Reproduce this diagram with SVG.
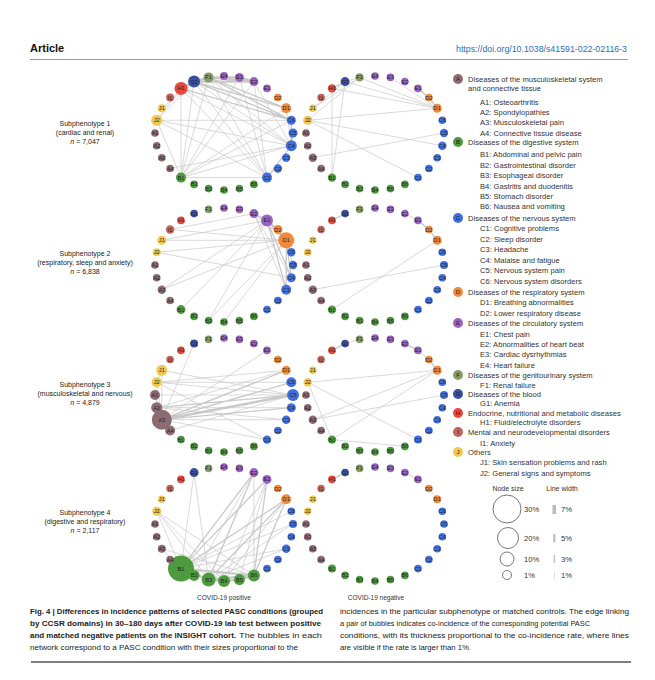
<svg xmlns="http://www.w3.org/2000/svg" width="655" height="680" viewBox="0 0 655 680">
<style>
text{font-family:"Liberation Sans",Arial,sans-serif;fill:#2b2b2b}
.cA{fill:#8d6b73}.cB{fill:#4e9a3f}.cC{fill:#3f6fe0}.cD{fill:#f08a3c}.cE{fill:#9a62c4}
.cF{fill:#869d66}.cG{fill:#3a4f9e}.cH{fill:#e8473b}.cI{fill:#c0645a}.cJ{fill:#f0c850}
.net text{font-size:5.6px;text-anchor:middle;dominant-baseline:central;fill:#262626}
.e{fill:none;stroke:#c9c9c9;stroke-linecap:round}
.w1{stroke-width:.7}.w2{stroke-width:1.3}.w3{stroke-width:2.4}
.side{font-size:7px;text-anchor:middle;fill:#222}
.lg{font-size:7.6px;fill:#333}
.lc{font-size:6px;text-anchor:middle;dominant-baseline:central;fill:#222}
.ns{fill:none;stroke:#555;stroke-width:.8}
.cap{font-size:7.4px;fill:#222}
.b{font-weight:bold}
</style>

<g id="header">
<text x="30" y="52" style="font-size:11px;font-weight:bold;fill:#111">Article</text>
<text x="627" y="52" style="font-size:8.8px;text-anchor:end;fill:#2a6ebb">https://doi.org/10.1038/s41591-022-02116-3</text>
<line x1="30" y1="59.5" x2="628" y2="59.5" stroke="#999" stroke-width="1"/>
</g>

<g id="row-labels">
<text class="side" x="85" y="126">Subphenotype 1</text>
<text class="side" x="85" y="135">(cardiac and renal)</text>
<text class="side" x="85" y="144"><tspan font-style="italic">n</tspan> = 7,047</text>
<text class="side" x="85" y="256">Subphenotype 2</text>
<text class="side" x="85" y="265">(respiratory, sleep and anxiety)</text>
<text class="side" x="85" y="274"><tspan font-style="italic">n</tspan> = 6,838</text>
<text class="side" x="85" y="387">Subphenotype 3</text>
<text class="side" x="85" y="396">(musculoskeletal and nervous)</text>
<text class="side" x="85" y="405"><tspan font-style="italic">n</tspan> = 4,879</text>
<text class="side" x="85" y="515">Subphenotype 4</text>
<text class="side" x="85" y="524">(digestive and respiratory)</text>
<text class="side" x="85" y="533"><tspan font-style="italic">n</tspan> = 2,117</text>
</g>

<g id="connectors">
<g transform="translate(224,133)">
<path class="e w1" d="M-43,-44.6L-43,44.6M-43,-44.6L43,44.6M-43,-44.6L67.3,12.7M-29.9,-51.4L-43,44.6M-29.9,-51.4L43,44.6M-29.9,-51.4L67.3,12.7M-15.4,-55.6L-43,44.6M-15.4,-55.6L43,44.6M-15.4,-55.6L67.3,12.7M15.4,-55.6L-43,44.6M29.9,-51.4L-43,44.6M29.9,-51.4L43,44.6M29.9,-51.4L67.3,12.7M15.4,-55.6L43,44.6M-67.3,-12.7L67.3,12.7M-67.3,-12.7L43,44.6M-67.3,-12.7L-29.9,-51.4M-67.3,-12.7L-43,44.6M-62.2,-24.7L-29.9,-51.4M-43,44.6L43,44.6M-43,44.6L67.3,12.7M-43,44.6L67.3,-12.7M-43,44.6L62.2,-24.7M-67.3,-12.7L67.3,-12.7M62.2,-24.7L67.3,12.7M43,44.6L62.2,24.7M-53.9,35.5L67.3,12.7M-43,-44.6L-67.3,-12.7"/>
<path class="e w2" d="M-15.4,-55.6L62.2,-24.7M-29.9,-51.4L62.2,-24.7M-29.9,-51.4L67.3,-12.7M-15.4,-55.6L67.3,-12.7M-43,-44.6L67.3,-12.7M67.3,-12.7L67.3,12.7M67.3,12.7L43,44.6M69,0L67.3,12.7"/>
<path class="e w3" d="M-29.9,-51.4L-15.4,-55.6M-15.4,-55.6L15.4,-55.6M-29.9,-51.4L29.9,-51.4M-43,-44.6L-29.9,-51.4M15.4,-55.6L29.9,-51.4M-15.4,-55.6L29.9,-51.4"/>
</g>
<g transform="translate(375,133)">
<path class="e w1" d="M-67.3,-12.7L62.2,-24.7M-67.3,-12.7L67.3,12.7M-67.3,-12.7L43,44.6M-67.3,-12.7L-15.4,-55.6M-62.2,-24.7L-29.9,-51.4M-62.2,-24.7L-15.4,-55.6M-43,-44.6L-43,44.6M-29.9,-51.4L-43,44.6M-29.9,-51.4L62.2,-24.7M-15.4,-55.6L62.2,-24.7M-43,-44.6L62.2,-24.7M15.4,-55.6L62.2,-24.7M-62.2,24.7L69,0M-29.9,-51.4L-15.4,-55.6"/>
<path class="e w2" d="M-43,-44.6L-29.9,-51.4M43,-44.6L53.9,-35.5M53.9,-35.5L62.2,-24.7"/>
</g>
<g transform="translate(224,265)">
<path class="e w1" d="M29.9,-51.4L67.3,12.7M29.9,-51.4L62.2,24.7M62.2,-24.7L67.3,-12.7M62.2,-24.7L69,0M-53.9,-35.5L29.9,-51.4M-53.9,-35.5L62.2,-24.7M-62.2,-24.7L62.2,-24.7M-62.2,-24.7L43,-44.6M-67.3,-12.7L62.2,-24.7M-67.3,-12.7L67.3,12.7M-62.2,24.7L43,-44.6M-62.2,24.7L62.2,-24.7M-43,44.6L43,-44.6M-15.4,55.6L43,-44.6M-15.4,55.6L62.2,-24.7M0,57L62.2,-24.7M43,-44.6L67.3,-12.7M29.9,-51.4L62.2,-24.7"/>
<path class="e w2" d="M43,-44.6L62.2,-24.7M29.9,-51.4L43,-44.6M53.9,-35.5L62.2,-24.7M43,-44.6L53.9,-35.5M43,-44.6L67.3,12.7M43,-44.6L62.2,24.7M62.2,-24.7L67.3,12.7M62.2,-24.7L62.2,24.7"/>
</g>
<g transform="translate(375,265)">
<path class="e w1" d="M-62.2,24.7L69,0M-43,44.6L62.2,-24.7M29.9,-51.4L43,-44.6"/>
<path class="e w2" d="M-43,-44.6L-29.9,-51.4M43,-44.6L53.9,-35.5M53.9,-35.5L62.2,-24.7"/>
</g>
<g transform="translate(224,395)">
<path class="e w1" d="M-62.2,24.7L-29.9,-51.4M-62.2,24.7L43,-44.6M-62.2,24.7L62.2,24.7M-62.2,24.7L43,44.6M-62.2,24.7L-67.3,-12.7M-62.2,24.7L-62.2,-24.7M-67.3,-12.7L62.2,-24.7M-67.3,-12.7L69,0M-67.3,-12.7L67.3,-12.7M-67.3,-12.7L43,44.6M-62.2,-24.7L69,0M-69,0L69,0M-67.3,12.7L62.2,-24.7M-67.3,12.7L67.3,12.7M-53.9,35.5L69,0M-67.3,12.7L62.2,24.7M-62.2,-24.7L-67.3,-12.7"/>
<path class="e w2" d="M-62.2,24.7L67.3,-12.7M-62.2,24.7L62.2,-24.7M-62.2,24.7L67.3,12.7M-67.3,12.7L69,0M-62.2,24.7L-67.3,12.7M-62.2,24.7L-53.9,35.5M-62.2,24.7L-69,0"/>
<path class="e w3" d="M-62.2,24.7L69,0"/>
</g>
<g transform="translate(375,395)">
<path class="e w1" d="M-67.3,-12.7L62.2,-24.7M-67.3,-12.7L43,44.6M-67.3,-12.7L-43,44.6M-62.2,24.7L62.2,-24.7M-62.2,24.7L69,0M-43,44.6L62.2,-24.7M-43,44.6L29.9,51.4M-29.9,-51.4L-15.4,-55.6M43,-44.6L53.9,-35.5"/>
<path class="e w2" d="M-43,-44.6L-29.9,-51.4M29.9,-51.4L43,-44.6M53.9,-35.5L62.2,-24.7"/>
</g>
<g transform="translate(224,524)">
<path class="e w1" d="M-43,44.6L-29.9,-51.4M-15.4,55.6L-29.9,-51.4M-43,44.6L-67.3,-12.7M-15.4,55.6L-67.3,-12.7M0,57L-67.3,-12.7M29.9,51.4L-67.3,-12.7M-43,44.6L69,0M-43,44.6L62.2,24.7M-15.4,55.6L69,0M0,57L43,-44.6M29.9,51.4L29.9,-51.4M0,57L62.2,-24.7M-29.9,51.4L29.9,-51.4M-62.2,24.7L29.9,51.4M-15.4,55.6L62.2,24.7M-43,44.6L-62.2,24.7M15.4,55.6L43,-44.6M-43,44.6L67.3,-12.7"/>
<path class="e w2" d="M-43,44.6L62.2,-24.7M-43,44.6L43,-44.6M-43,44.6L29.9,-51.4M29.9,51.4L43,-44.6M29.9,51.4L62.2,-24.7M-15.4,55.6L29.9,-51.4M-15.4,55.6L62.2,-24.7"/>
<path class="e w3" d="M-43,44.6L-15.4,55.6M-43,44.6L29.9,51.4M-15.4,55.6L0,57M0,57L15.4,55.6M15.4,55.6L29.9,51.4M-43,44.6L-29.9,51.4M-15.4,55.6L29.9,51.4"/>
</g>
<g transform="translate(375,524)">
<path class="e w1" d="M29.9,-51.4L43,-44.6M53.9,-35.5L62.2,-24.7"/>
<path class="e w2" d="M-43,-44.6L-29.9,-51.4"/>
</g>
</g>

<g id="net-s1-positive" class="net" transform="translate(224,133)">
<g id="s1p-E4"><circle class="cE" cx="0" cy="-57" r="4"/><text x="0" y="-57">E4</text></g>
<g id="s1p-E3"><circle class="cE" cx="15.4" cy="-55.6" r="4.5"/><text x="15.4" y="-55.6">E3</text></g>
<g id="s1p-E2"><circle class="cE" cx="29.9" cy="-51.4" r="4.5"/><text x="29.9" y="-51.4">E2</text></g>
<g id="s1p-E1"><circle class="cE" cx="43" cy="-44.6" r="3.8"/><text x="43" y="-44.6">E1</text></g>
<g id="s1p-D2"><circle class="cD" cx="53.9" cy="-35.5" r="3.8"/><text x="53.9" y="-35.5">D2</text></g>
<g id="s1p-D1"><circle class="cD" cx="62.2" cy="-24.7" r="5"/><text x="62.2" y="-24.7">D1</text></g>
<g id="s1p-C6"><circle class="cC" cx="67.3" cy="-12.7" r="4.5"/><text x="67.3" y="-12.7">C6</text></g>
<g id="s1p-C5"><circle class="cC" cx="69" cy="0" r="4.5"/><text x="69" y="0">C5</text></g>
<g id="s1p-C4"><circle class="cC" cx="67.3" cy="12.7" r="5.5"/><text x="67.3" y="12.7">C4</text></g>
<g id="s1p-C3"><circle class="cC" cx="62.2" cy="24.7" r="4.2"/><text x="62.2" y="24.7">C3</text></g>
<g id="s1p-C2"><circle class="cC" cx="53.9" cy="35.5" r="4.2"/><text x="53.9" y="35.5">C2</text></g>
<g id="s1p-C1"><circle class="cC" cx="43" cy="44.6" r="5"/><text x="43" y="44.6">C1</text></g>
<g id="s1p-B6"><circle class="cB" cx="29.9" cy="51.4" r="3.8"/><text x="29.9" y="51.4">B6</text></g>
<g id="s1p-B5"><circle class="cB" cx="15.4" cy="55.6" r="3.8"/><text x="15.4" y="55.6">B5</text></g>
<g id="s1p-B4"><circle class="cB" cx="0" cy="57" r="3.8"/><text x="0" y="57">B4</text></g>
<g id="s1p-B3"><circle class="cB" cx="-15.4" cy="55.6" r="3.8"/><text x="-15.4" y="55.6">B3</text></g>
<g id="s1p-B2"><circle class="cB" cx="-29.9" cy="51.4" r="3.8"/><text x="-29.9" y="51.4">B2</text></g>
<g id="s1p-B1"><circle class="cB" cx="-43" cy="44.6" r="5"/><text x="-43" y="44.6">B1</text></g>
<g id="s1p-A4"><circle class="cA" cx="-53.9" cy="35.5" r="3.8"/><text x="-53.9" y="35.5">A4</text></g>
<g id="s1p-A3"><circle class="cA" cx="-62.2" cy="24.7" r="3.8"/><text x="-62.2" y="24.7">A3</text></g>
<g id="s1p-A2"><circle class="cA" cx="-67.3" cy="12.7" r="3.8"/><text x="-67.3" y="12.7">A2</text></g>
<g id="s1p-A1"><circle class="cA" cx="-69" cy="0" r="3.8"/><text x="-69" y="0">A1</text></g>
<g id="s1p-J2"><circle class="cJ" cx="-67.3" cy="-12.7" r="5.5"/><text x="-67.3" y="-12.7">J2</text></g>
<g id="s1p-J1"><circle class="cJ" cx="-62.2" cy="-24.7" r="4"/><text x="-62.2" y="-24.7">J1</text></g>
<g id="s1p-I1"><circle class="cI" cx="-53.9" cy="-35.5" r="4"/><text x="-53.9" y="-35.5">I1</text></g>
<g id="s1p-H1"><circle class="cH" cx="-43" cy="-44.6" r="6.5"/><text x="-43" y="-44.6">H1</text></g>
<g id="s1p-G1"><circle class="cG" cx="-29.9" cy="-51.4" r="6"/><text x="-29.9" y="-51.4">G1</text></g>
<g id="s1p-F1"><circle class="cF" cx="-15.4" cy="-55.6" r="5"/><text x="-15.4" y="-55.6">F1</text></g>
</g>

<g id="net-s1-negative" class="net" transform="translate(375,133)">
<g id="s1n-E4"><circle class="cE" cx="0" cy="-57" r="3.8"/><text x="0" y="-57">E4</text></g>
<g id="s1n-E3"><circle class="cE" cx="15.4" cy="-55.6" r="3.8"/><text x="15.4" y="-55.6">E3</text></g>
<g id="s1n-E2"><circle class="cE" cx="29.9" cy="-51.4" r="3.8"/><text x="29.9" y="-51.4">E2</text></g>
<g id="s1n-E1"><circle class="cE" cx="43" cy="-44.6" r="3.8"/><text x="43" y="-44.6">E1</text></g>
<g id="s1n-D2"><circle class="cD" cx="53.9" cy="-35.5" r="3.8"/><text x="53.9" y="-35.5">D2</text></g>
<g id="s1n-D1"><circle class="cD" cx="62.2" cy="-24.7" r="4.5"/><text x="62.2" y="-24.7">D1</text></g>
<g id="s1n-C6"><circle class="cC" cx="67.3" cy="-12.7" r="3.8"/><text x="67.3" y="-12.7">C6</text></g>
<g id="s1n-C5"><circle class="cC" cx="69" cy="0" r="4.2"/><text x="69" y="0">C5</text></g>
<g id="s1n-C4"><circle class="cC" cx="67.3" cy="12.7" r="4.2"/><text x="67.3" y="12.7">C4</text></g>
<g id="s1n-C3"><circle class="cC" cx="62.2" cy="24.7" r="3.8"/><text x="62.2" y="24.7">C3</text></g>
<g id="s1n-C2"><circle class="cC" cx="53.9" cy="35.5" r="3.8"/><text x="53.9" y="35.5">C2</text></g>
<g id="s1n-C1"><circle class="cC" cx="43" cy="44.6" r="3.8"/><text x="43" y="44.6">C1</text></g>
<g id="s1n-B6"><circle class="cB" cx="29.9" cy="51.4" r="3.8"/><text x="29.9" y="51.4">B6</text></g>
<g id="s1n-B5"><circle class="cB" cx="15.4" cy="55.6" r="3.8"/><text x="15.4" y="55.6">B5</text></g>
<g id="s1n-B4"><circle class="cB" cx="0" cy="57" r="3.8"/><text x="0" y="57">B4</text></g>
<g id="s1n-B3"><circle class="cB" cx="-15.4" cy="55.6" r="3.8"/><text x="-15.4" y="55.6">B3</text></g>
<g id="s1n-B2"><circle class="cB" cx="-29.9" cy="51.4" r="3.8"/><text x="-29.9" y="51.4">B2</text></g>
<g id="s1n-B1"><circle class="cB" cx="-43" cy="44.6" r="4.2"/><text x="-43" y="44.6">B1</text></g>
<g id="s1n-A4"><circle class="cA" cx="-53.9" cy="35.5" r="3.8"/><text x="-53.9" y="35.5">A4</text></g>
<g id="s1n-A3"><circle class="cA" cx="-62.2" cy="24.7" r="4.2"/><text x="-62.2" y="24.7">A3</text></g>
<g id="s1n-A2"><circle class="cA" cx="-67.3" cy="12.7" r="3.8"/><text x="-67.3" y="12.7">A2</text></g>
<g id="s1n-A1"><circle class="cA" cx="-69" cy="0" r="3.8"/><text x="-69" y="0">A1</text></g>
<g id="s1n-J2"><circle class="cJ" cx="-67.3" cy="-12.7" r="4.5"/><text x="-67.3" y="-12.7">J2</text></g>
<g id="s1n-J1"><circle class="cJ" cx="-62.2" cy="-24.7" r="3.8"/><text x="-62.2" y="-24.7">J1</text></g>
<g id="s1n-I1"><circle class="cI" cx="-53.9" cy="-35.5" r="3.8"/><text x="-53.9" y="-35.5">I1</text></g>
<g id="s1n-H1"><circle class="cH" cx="-43" cy="-44.6" r="4.2"/><text x="-43" y="-44.6">H1</text></g>
<g id="s1n-G1"><circle class="cG" cx="-29.9" cy="-51.4" r="4.5"/><text x="-29.9" y="-51.4">G1</text></g>
<g id="s1n-F1"><circle class="cF" cx="-15.4" cy="-55.6" r="4.2"/><text x="-15.4" y="-55.6">F1</text></g>
</g>

<g id="net-s2-positive" class="net" transform="translate(224,265)">
<g id="s2p-E4"><circle class="cE" cx="0" cy="-57" r="3.8"/><text x="0" y="-57">E4</text></g>
<g id="s2p-E3"><circle class="cE" cx="15.4" cy="-55.6" r="3.8"/><text x="15.4" y="-55.6">E3</text></g>
<g id="s2p-E2"><circle class="cE" cx="29.9" cy="-51.4" r="4.5"/><text x="29.9" y="-51.4">E2</text></g>
<g id="s2p-E1"><circle class="cE" cx="43" cy="-44.6" r="6"/><text x="43" y="-44.6">E1</text></g>
<g id="s2p-D2"><circle class="cD" cx="53.9" cy="-35.5" r="4.5"/><text x="53.9" y="-35.5">D2</text></g>
<g id="s2p-D1"><circle class="cD" cx="62.2" cy="-24.7" r="8"/><text x="62.2" y="-24.7">D1</text></g>
<g id="s2p-C6"><circle class="cC" cx="67.3" cy="-12.7" r="4.2"/><text x="67.3" y="-12.7">C6</text></g>
<g id="s2p-C5"><circle class="cC" cx="69" cy="0" r="4.2"/><text x="69" y="0">C5</text></g>
<g id="s2p-C4"><circle class="cC" cx="67.3" cy="12.7" r="4.5"/><text x="67.3" y="12.7">C4</text></g>
<g id="s2p-C3"><circle class="cC" cx="62.2" cy="24.7" r="5"/><text x="62.2" y="24.7">C3</text></g>
<g id="s2p-C2"><circle class="cC" cx="53.9" cy="35.5" r="3.8"/><text x="53.9" y="35.5">C2</text></g>
<g id="s2p-C1"><circle class="cC" cx="43" cy="44.6" r="3.8"/><text x="43" y="44.6">C1</text></g>
<g id="s2p-B6"><circle class="cB" cx="29.9" cy="51.4" r="3.8"/><text x="29.9" y="51.4">B6</text></g>
<g id="s2p-B5"><circle class="cB" cx="15.4" cy="55.6" r="3.8"/><text x="15.4" y="55.6">B5</text></g>
<g id="s2p-B4"><circle class="cB" cx="0" cy="57" r="3.8"/><text x="0" y="57">B4</text></g>
<g id="s2p-B3"><circle class="cB" cx="-15.4" cy="55.6" r="3.8"/><text x="-15.4" y="55.6">B3</text></g>
<g id="s2p-B2"><circle class="cB" cx="-29.9" cy="51.4" r="3.8"/><text x="-29.9" y="51.4">B2</text></g>
<g id="s2p-B1"><circle class="cB" cx="-43" cy="44.6" r="4.5"/><text x="-43" y="44.6">B1</text></g>
<g id="s2p-A4"><circle class="cA" cx="-53.9" cy="35.5" r="3.8"/><text x="-53.9" y="35.5">A4</text></g>
<g id="s2p-A3"><circle class="cA" cx="-62.2" cy="24.7" r="4.2"/><text x="-62.2" y="24.7">A3</text></g>
<g id="s2p-A2"><circle class="cA" cx="-67.3" cy="12.7" r="3.8"/><text x="-67.3" y="12.7">A2</text></g>
<g id="s2p-A1"><circle class="cA" cx="-69" cy="0" r="3.8"/><text x="-69" y="0">A1</text></g>
<g id="s2p-J2"><circle class="cJ" cx="-67.3" cy="-12.7" r="4"/><text x="-67.3" y="-12.7">J2</text></g>
<g id="s2p-J1"><circle class="cJ" cx="-62.2" cy="-24.7" r="4.5"/><text x="-62.2" y="-24.7">J1</text></g>
<g id="s2p-I1"><circle class="cI" cx="-53.9" cy="-35.5" r="4.2"/><text x="-53.9" y="-35.5">I1</text></g>
<g id="s2p-H1"><circle class="cH" cx="-43" cy="-44.6" r="3.8"/><text x="-43" y="-44.6">H1</text></g>
<g id="s2p-G1"><circle class="cG" cx="-29.9" cy="-51.4" r="3.8"/><text x="-29.9" y="-51.4">G1</text></g>
<g id="s2p-F1"><circle class="cF" cx="-15.4" cy="-55.6" r="3.8"/><text x="-15.4" y="-55.6">F1</text></g>
</g>

<g id="net-s2-negative" class="net" transform="translate(375,265)">
<g id="s2n-E4"><circle class="cE" cx="0" cy="-57" r="3.8"/><text x="0" y="-57">E4</text></g>
<g id="s2n-E3"><circle class="cE" cx="15.4" cy="-55.6" r="3.8"/><text x="15.4" y="-55.6">E3</text></g>
<g id="s2n-E2"><circle class="cE" cx="29.9" cy="-51.4" r="3.8"/><text x="29.9" y="-51.4">E2</text></g>
<g id="s2n-E1"><circle class="cE" cx="43" cy="-44.6" r="3.8"/><text x="43" y="-44.6">E1</text></g>
<g id="s2n-D2"><circle class="cD" cx="53.9" cy="-35.5" r="3.8"/><text x="53.9" y="-35.5">D2</text></g>
<g id="s2n-D1"><circle class="cD" cx="62.2" cy="-24.7" r="4.5"/><text x="62.2" y="-24.7">D1</text></g>
<g id="s2n-C6"><circle class="cC" cx="67.3" cy="-12.7" r="3.8"/><text x="67.3" y="-12.7">C6</text></g>
<g id="s2n-C5"><circle class="cC" cx="69" cy="0" r="4"/><text x="69" y="0">C5</text></g>
<g id="s2n-C4"><circle class="cC" cx="67.3" cy="12.7" r="3.8"/><text x="67.3" y="12.7">C4</text></g>
<g id="s2n-C3"><circle class="cC" cx="62.2" cy="24.7" r="3.8"/><text x="62.2" y="24.7">C3</text></g>
<g id="s2n-C2"><circle class="cC" cx="53.9" cy="35.5" r="3.8"/><text x="53.9" y="35.5">C2</text></g>
<g id="s2n-C1"><circle class="cC" cx="43" cy="44.6" r="3.8"/><text x="43" y="44.6">C1</text></g>
<g id="s2n-B6"><circle class="cB" cx="29.9" cy="51.4" r="3.8"/><text x="29.9" y="51.4">B6</text></g>
<g id="s2n-B5"><circle class="cB" cx="15.4" cy="55.6" r="3.8"/><text x="15.4" y="55.6">B5</text></g>
<g id="s2n-B4"><circle class="cB" cx="0" cy="57" r="3.8"/><text x="0" y="57">B4</text></g>
<g id="s2n-B3"><circle class="cB" cx="-15.4" cy="55.6" r="3.8"/><text x="-15.4" y="55.6">B3</text></g>
<g id="s2n-B2"><circle class="cB" cx="-29.9" cy="51.4" r="3.8"/><text x="-29.9" y="51.4">B2</text></g>
<g id="s2n-B1"><circle class="cB" cx="-43" cy="44.6" r="4.2"/><text x="-43" y="44.6">B1</text></g>
<g id="s2n-A4"><circle class="cA" cx="-53.9" cy="35.5" r="3.8"/><text x="-53.9" y="35.5">A4</text></g>
<g id="s2n-A3"><circle class="cA" cx="-62.2" cy="24.7" r="4.2"/><text x="-62.2" y="24.7">A3</text></g>
<g id="s2n-A2"><circle class="cA" cx="-67.3" cy="12.7" r="3.8"/><text x="-67.3" y="12.7">A2</text></g>
<g id="s2n-A1"><circle class="cA" cx="-69" cy="0" r="3.8"/><text x="-69" y="0">A1</text></g>
<g id="s2n-J2"><circle class="cJ" cx="-67.3" cy="-12.7" r="3.8"/><text x="-67.3" y="-12.7">J2</text></g>
<g id="s2n-J1"><circle class="cJ" cx="-62.2" cy="-24.7" r="3.8"/><text x="-62.2" y="-24.7">J1</text></g>
<g id="s2n-I1"><circle class="cI" cx="-53.9" cy="-35.5" r="3.8"/><text x="-53.9" y="-35.5">I1</text></g>
<g id="s2n-H1"><circle class="cH" cx="-43" cy="-44.6" r="3.8"/><text x="-43" y="-44.6">H1</text></g>
<g id="s2n-G1"><circle class="cG" cx="-29.9" cy="-51.4" r="3.8"/><text x="-29.9" y="-51.4">G1</text></g>
<g id="s2n-F1"><circle class="cF" cx="-15.4" cy="-55.6" r="3.8"/><text x="-15.4" y="-55.6">F1</text></g>
</g>

<g id="net-s3-positive" class="net" transform="translate(224,395)">
<g id="s3p-A3"><circle class="cA" cx="-62.2" cy="24.7" r="10"/><text x="-62.2" y="24.7">A3</text></g>
<g id="s3p-E4"><circle class="cE" cx="0" cy="-57" r="3.8"/><text x="0" y="-57">E4</text></g>
<g id="s3p-E3"><circle class="cE" cx="15.4" cy="-55.6" r="3.8"/><text x="15.4" y="-55.6">E3</text></g>
<g id="s3p-E2"><circle class="cE" cx="29.9" cy="-51.4" r="3.8"/><text x="29.9" y="-51.4">E2</text></g>
<g id="s3p-E1"><circle class="cE" cx="43" cy="-44.6" r="3.8"/><text x="43" y="-44.6">E1</text></g>
<g id="s3p-D2"><circle class="cD" cx="53.9" cy="-35.5" r="3.8"/><text x="53.9" y="-35.5">D2</text></g>
<g id="s3p-D1"><circle class="cD" cx="62.2" cy="-24.7" r="4.5"/><text x="62.2" y="-24.7">D1</text></g>
<g id="s3p-C6"><circle class="cC" cx="67.3" cy="-12.7" r="5"/><text x="67.3" y="-12.7">C6</text></g>
<g id="s3p-C5"><circle class="cC" cx="69" cy="0" r="6"/><text x="69" y="0">C5</text></g>
<g id="s3p-C4"><circle class="cC" cx="67.3" cy="12.7" r="4.5"/><text x="67.3" y="12.7">C4</text></g>
<g id="s3p-C3"><circle class="cC" cx="62.2" cy="24.7" r="4.2"/><text x="62.2" y="24.7">C3</text></g>
<g id="s3p-C2"><circle class="cC" cx="53.9" cy="35.5" r="3.8"/><text x="53.9" y="35.5">C2</text></g>
<g id="s3p-C1"><circle class="cC" cx="43" cy="44.6" r="4.2"/><text x="43" y="44.6">C1</text></g>
<g id="s3p-B6"><circle class="cB" cx="29.9" cy="51.4" r="3.8"/><text x="29.9" y="51.4">B6</text></g>
<g id="s3p-B5"><circle class="cB" cx="15.4" cy="55.6" r="3.8"/><text x="15.4" y="55.6">B5</text></g>
<g id="s3p-B4"><circle class="cB" cx="0" cy="57" r="3.8"/><text x="0" y="57">B4</text></g>
<g id="s3p-B3"><circle class="cB" cx="-15.4" cy="55.6" r="3.8"/><text x="-15.4" y="55.6">B3</text></g>
<g id="s3p-B2"><circle class="cB" cx="-29.9" cy="51.4" r="3.8"/><text x="-29.9" y="51.4">B2</text></g>
<g id="s3p-B1"><circle class="cB" cx="-43" cy="44.6" r="3.8"/><text x="-43" y="44.6">B1</text></g>
<g id="s3p-A4"><circle class="cA" cx="-53.9" cy="35.5" r="5"/><text x="-53.9" y="35.5">A4</text></g>
<g id="s3p-A2"><circle class="cA" cx="-67.3" cy="12.7" r="5.5"/><text x="-67.3" y="12.7">A2</text></g>
<g id="s3p-A1"><circle class="cA" cx="-69" cy="0" r="5"/><text x="-69" y="0">A1</text></g>
<g id="s3p-J2"><circle class="cJ" cx="-67.3" cy="-12.7" r="5"/><text x="-67.3" y="-12.7">J2</text></g>
<g id="s3p-J1"><circle class="cJ" cx="-62.2" cy="-24.7" r="5.5"/><text x="-62.2" y="-24.7">J1</text></g>
<g id="s3p-I1"><circle class="cI" cx="-53.9" cy="-35.5" r="3.8"/><text x="-53.9" y="-35.5">I1</text></g>
<g id="s3p-H1"><circle class="cH" cx="-43" cy="-44.6" r="3.8"/><text x="-43" y="-44.6">H1</text></g>
<g id="s3p-G1"><circle class="cG" cx="-29.9" cy="-51.4" r="4"/><text x="-29.9" y="-51.4">G1</text></g>
<g id="s3p-F1"><circle class="cF" cx="-15.4" cy="-55.6" r="3.8"/><text x="-15.4" y="-55.6">F1</text></g>
</g>

<g id="net-s3-negative" class="net" transform="translate(375,395)">
<g id="s3n-E4"><circle class="cE" cx="0" cy="-57" r="3.8"/><text x="0" y="-57">E4</text></g>
<g id="s3n-E3"><circle class="cE" cx="15.4" cy="-55.6" r="3.8"/><text x="15.4" y="-55.6">E3</text></g>
<g id="s3n-E2"><circle class="cE" cx="29.9" cy="-51.4" r="3.8"/><text x="29.9" y="-51.4">E2</text></g>
<g id="s3n-E1"><circle class="cE" cx="43" cy="-44.6" r="3.8"/><text x="43" y="-44.6">E1</text></g>
<g id="s3n-D2"><circle class="cD" cx="53.9" cy="-35.5" r="3.8"/><text x="53.9" y="-35.5">D2</text></g>
<g id="s3n-D1"><circle class="cD" cx="62.2" cy="-24.7" r="4.5"/><text x="62.2" y="-24.7">D1</text></g>
<g id="s3n-C6"><circle class="cC" cx="67.3" cy="-12.7" r="3.8"/><text x="67.3" y="-12.7">C6</text></g>
<g id="s3n-C5"><circle class="cC" cx="69" cy="0" r="4"/><text x="69" y="0">C5</text></g>
<g id="s3n-C4"><circle class="cC" cx="67.3" cy="12.7" r="3.8"/><text x="67.3" y="12.7">C4</text></g>
<g id="s3n-C3"><circle class="cC" cx="62.2" cy="24.7" r="3.8"/><text x="62.2" y="24.7">C3</text></g>
<g id="s3n-C2"><circle class="cC" cx="53.9" cy="35.5" r="3.8"/><text x="53.9" y="35.5">C2</text></g>
<g id="s3n-C1"><circle class="cC" cx="43" cy="44.6" r="4"/><text x="43" y="44.6">C1</text></g>
<g id="s3n-B6"><circle class="cB" cx="29.9" cy="51.4" r="3.8"/><text x="29.9" y="51.4">B6</text></g>
<g id="s3n-B5"><circle class="cB" cx="15.4" cy="55.6" r="3.8"/><text x="15.4" y="55.6">B5</text></g>
<g id="s3n-B4"><circle class="cB" cx="0" cy="57" r="3.8"/><text x="0" y="57">B4</text></g>
<g id="s3n-B3"><circle class="cB" cx="-15.4" cy="55.6" r="3.8"/><text x="-15.4" y="55.6">B3</text></g>
<g id="s3n-B2"><circle class="cB" cx="-29.9" cy="51.4" r="3.8"/><text x="-29.9" y="51.4">B2</text></g>
<g id="s3n-B1"><circle class="cB" cx="-43" cy="44.6" r="4.2"/><text x="-43" y="44.6">B1</text></g>
<g id="s3n-A4"><circle class="cA" cx="-53.9" cy="35.5" r="3.8"/><text x="-53.9" y="35.5">A4</text></g>
<g id="s3n-A3"><circle class="cA" cx="-62.2" cy="24.7" r="4.2"/><text x="-62.2" y="24.7">A3</text></g>
<g id="s3n-A2"><circle class="cA" cx="-67.3" cy="12.7" r="3.8"/><text x="-67.3" y="12.7">A2</text></g>
<g id="s3n-A1"><circle class="cA" cx="-69" cy="0" r="3.8"/><text x="-69" y="0">A1</text></g>
<g id="s3n-J2"><circle class="cJ" cx="-67.3" cy="-12.7" r="4.2"/><text x="-67.3" y="-12.7">J2</text></g>
<g id="s3n-J1"><circle class="cJ" cx="-62.2" cy="-24.7" r="3.8"/><text x="-62.2" y="-24.7">J1</text></g>
<g id="s3n-I1"><circle class="cI" cx="-53.9" cy="-35.5" r="3.8"/><text x="-53.9" y="-35.5">I1</text></g>
<g id="s3n-H1"><circle class="cH" cx="-43" cy="-44.6" r="3.8"/><text x="-43" y="-44.6">H1</text></g>
<g id="s3n-G1"><circle class="cG" cx="-29.9" cy="-51.4" r="3.8"/><text x="-29.9" y="-51.4">G1</text></g>
<g id="s3n-F1"><circle class="cF" cx="-15.4" cy="-55.6" r="3.8"/><text x="-15.4" y="-55.6">F1</text></g>
</g>

<g id="net-s4-positive" class="net" transform="translate(224,524)">
<g id="s4p-B1"><circle class="cB" cx="-43" cy="44.6" r="13"/><text x="-43" y="44.6">B1</text></g>
<g id="s4p-E4"><circle class="cE" cx="0" cy="-57" r="3.8"/><text x="0" y="-57">E4</text></g>
<g id="s4p-E3"><circle class="cE" cx="15.4" cy="-55.6" r="3.8"/><text x="15.4" y="-55.6">E3</text></g>
<g id="s4p-E2"><circle class="cE" cx="29.9" cy="-51.4" r="4.5"/><text x="29.9" y="-51.4">E2</text></g>
<g id="s4p-E1"><circle class="cE" cx="43" cy="-44.6" r="4.5"/><text x="43" y="-44.6">E1</text></g>
<g id="s4p-D2"><circle class="cD" cx="53.9" cy="-35.5" r="3.8"/><text x="53.9" y="-35.5">D2</text></g>
<g id="s4p-D1"><circle class="cD" cx="62.2" cy="-24.7" r="5"/><text x="62.2" y="-24.7">D1</text></g>
<g id="s4p-C6"><circle class="cC" cx="67.3" cy="-12.7" r="3.8"/><text x="67.3" y="-12.7">C6</text></g>
<g id="s4p-C5"><circle class="cC" cx="69" cy="0" r="4"/><text x="69" y="0">C5</text></g>
<g id="s4p-C4"><circle class="cC" cx="67.3" cy="12.7" r="3.8"/><text x="67.3" y="12.7">C4</text></g>
<g id="s4p-C3"><circle class="cC" cx="62.2" cy="24.7" r="4.2"/><text x="62.2" y="24.7">C3</text></g>
<g id="s4p-C2"><circle class="cC" cx="53.9" cy="35.5" r="3.8"/><text x="53.9" y="35.5">C2</text></g>
<g id="s4p-C1"><circle class="cC" cx="43" cy="44.6" r="3.8"/><text x="43" y="44.6">C1</text></g>
<g id="s4p-B6"><circle class="cB" cx="29.9" cy="51.4" r="6"/><text x="29.9" y="51.4">B6</text></g>
<g id="s4p-B5"><circle class="cB" cx="15.4" cy="55.6" r="5.5"/><text x="15.4" y="55.6">B5</text></g>
<g id="s4p-B4"><circle class="cB" cx="0" cy="57" r="6"/><text x="0" y="57">B4</text></g>
<g id="s4p-B3"><circle class="cB" cx="-15.4" cy="55.6" r="7"/><text x="-15.4" y="55.6">B3</text></g>
<g id="s4p-B2"><circle class="cB" cx="-29.9" cy="51.4" r="5.5"/><text x="-29.9" y="51.4">B2</text></g>
<g id="s4p-A4"><circle class="cA" cx="-53.9" cy="35.5" r="3.8"/><text x="-53.9" y="35.5">A4</text></g>
<g id="s4p-A3"><circle class="cA" cx="-62.2" cy="24.7" r="4"/><text x="-62.2" y="24.7">A3</text></g>
<g id="s4p-A2"><circle class="cA" cx="-67.3" cy="12.7" r="3.8"/><text x="-67.3" y="12.7">A2</text></g>
<g id="s4p-A1"><circle class="cA" cx="-69" cy="0" r="3.8"/><text x="-69" y="0">A1</text></g>
<g id="s4p-J2"><circle class="cJ" cx="-67.3" cy="-12.7" r="4.5"/><text x="-67.3" y="-12.7">J2</text></g>
<g id="s4p-J1"><circle class="cJ" cx="-62.2" cy="-24.7" r="3.8"/><text x="-62.2" y="-24.7">J1</text></g>
<g id="s4p-I1"><circle class="cI" cx="-53.9" cy="-35.5" r="3.8"/><text x="-53.9" y="-35.5">I1</text></g>
<g id="s4p-H1"><circle class="cH" cx="-43" cy="-44.6" r="3.8"/><text x="-43" y="-44.6">H1</text></g>
<g id="s4p-G1"><circle class="cG" cx="-29.9" cy="-51.4" r="4.5"/><text x="-29.9" y="-51.4">G1</text></g>
<g id="s4p-F1"><circle class="cF" cx="-15.4" cy="-55.6" r="3.8"/><text x="-15.4" y="-55.6">F1</text></g>
</g>

<g id="net-s4-negative" class="net" transform="translate(375,524)">
<g id="s4n-E4"><circle class="cE" cx="0" cy="-57" r="3.8"/><text x="0" y="-57">E4</text></g>
<g id="s4n-E3"><circle class="cE" cx="15.4" cy="-55.6" r="3.8"/><text x="15.4" y="-55.6">E3</text></g>
<g id="s4n-E2"><circle class="cE" cx="29.9" cy="-51.4" r="3.8"/><text x="29.9" y="-51.4">E2</text></g>
<g id="s4n-E1"><circle class="cE" cx="43" cy="-44.6" r="3.8"/><text x="43" y="-44.6">E1</text></g>
<g id="s4n-D2"><circle class="cD" cx="53.9" cy="-35.5" r="3.8"/><text x="53.9" y="-35.5">D2</text></g>
<g id="s4n-D1"><circle class="cD" cx="62.2" cy="-24.7" r="4"/><text x="62.2" y="-24.7">D1</text></g>
<g id="s4n-C6"><circle class="cC" cx="67.3" cy="-12.7" r="3.8"/><text x="67.3" y="-12.7">C6</text></g>
<g id="s4n-C5"><circle class="cC" cx="69" cy="0" r="3.8"/><text x="69" y="0">C5</text></g>
<g id="s4n-C4"><circle class="cC" cx="67.3" cy="12.7" r="3.8"/><text x="67.3" y="12.7">C4</text></g>
<g id="s4n-C3"><circle class="cC" cx="62.2" cy="24.7" r="3.8"/><text x="62.2" y="24.7">C3</text></g>
<g id="s4n-C2"><circle class="cC" cx="53.9" cy="35.5" r="3.8"/><text x="53.9" y="35.5">C2</text></g>
<g id="s4n-C1"><circle class="cC" cx="43" cy="44.6" r="3.8"/><text x="43" y="44.6">C1</text></g>
<g id="s4n-B6"><circle class="cB" cx="29.9" cy="51.4" r="3.8"/><text x="29.9" y="51.4">B6</text></g>
<g id="s4n-B5"><circle class="cB" cx="15.4" cy="55.6" r="3.8"/><text x="15.4" y="55.6">B5</text></g>
<g id="s4n-B4"><circle class="cB" cx="0" cy="57" r="3.8"/><text x="0" y="57">B4</text></g>
<g id="s4n-B3"><circle class="cB" cx="-15.4" cy="55.6" r="3.8"/><text x="-15.4" y="55.6">B3</text></g>
<g id="s4n-B2"><circle class="cB" cx="-29.9" cy="51.4" r="3.8"/><text x="-29.9" y="51.4">B2</text></g>
<g id="s4n-B1"><circle class="cB" cx="-43" cy="44.6" r="4"/><text x="-43" y="44.6">B1</text></g>
<g id="s4n-A4"><circle class="cA" cx="-53.9" cy="35.5" r="3.8"/><text x="-53.9" y="35.5">A4</text></g>
<g id="s4n-A3"><circle class="cA" cx="-62.2" cy="24.7" r="3.8"/><text x="-62.2" y="24.7">A3</text></g>
<g id="s4n-A2"><circle class="cA" cx="-67.3" cy="12.7" r="3.8"/><text x="-67.3" y="12.7">A2</text></g>
<g id="s4n-A1"><circle class="cA" cx="-69" cy="0" r="3.8"/><text x="-69" y="0">A1</text></g>
<g id="s4n-J2"><circle class="cJ" cx="-67.3" cy="-12.7" r="3.8"/><text x="-67.3" y="-12.7">J2</text></g>
<g id="s4n-J1"><circle class="cJ" cx="-62.2" cy="-24.7" r="3.8"/><text x="-62.2" y="-24.7">J1</text></g>
<g id="s4n-I1"><circle class="cI" cx="-53.9" cy="-35.5" r="3.8"/><text x="-53.9" y="-35.5">I1</text></g>
<g id="s4n-H1"><circle class="cH" cx="-43" cy="-44.6" r="3.8"/><text x="-43" y="-44.6">H1</text></g>
<g id="s4n-G1"><circle class="cG" cx="-29.9" cy="-51.4" r="3.8"/><text x="-29.9" y="-51.4">G1</text></g>
<g id="s4n-F1"><circle class="cF" cx="-15.4" cy="-55.6" r="3.8"/><text x="-15.4" y="-55.6">F1</text></g>
</g>

<g id="column-labels">
<text x="224" y="600" style="font-size:6.5px;text-anchor:middle;fill:#333">COVID-19 positive</text>
<text x="376" y="600" style="font-size:6.5px;text-anchor:middle;fill:#333">COVID-19 negative</text>
</g>

<g id="legend">
<circle class="cA" cx="458" cy="79" r="5"/><text class="lc" x="458" y="79">A</text>
<text class="lg" x="468" y="82">Diseases of the musculoskeletal system</text>
<text class="lg" x="468" y="91">and connective tissue</text>
<text class="lg" x="480" y="104.5">A1: Osteoarthritis</text>
<text class="lg" x="480" y="114.5">A2: Spondylopathies</text>
<text class="lg" x="480" y="125">A3: Musculoskeletal pain</text>
<text class="lg" x="480" y="135.5">A4: Connective tissue disease</text>
<circle class="cB" cx="458" cy="142" r="5"/><text class="lc" x="458" y="142">B</text>
<text class="lg" x="468" y="145">Diseases of the digestive system</text>
<text class="lg" x="480" y="156.5">B1: Abdominal and pelvic pain</text>
<text class="lg" x="480" y="167.5">B2: Gastrointestinal disorder</text>
<text class="lg" x="480" y="178">B3: Esophageal disorder</text>
<text class="lg" x="480" y="188.5">B4: Gastritis and duodenitis</text>
<text class="lg" x="480" y="198.5">B5: Stomach disorder</text>
<text class="lg" x="480" y="209">B6: Nausea and vomiting</text>
<circle class="cC" cx="458" cy="218" r="5"/><text class="lc" x="458" y="218">C</text>
<text class="lg" x="468" y="221">Diseases of the nervous system</text>
<text class="lg" x="480" y="231">C1: Cognitive problems</text>
<text class="lg" x="480" y="241.5">C2: Sleep disorder</text>
<text class="lg" x="480" y="252">C3: Headache</text>
<text class="lg" x="480" y="262.5">C4: Malaise and fatigue</text>
<text class="lg" x="480" y="273">C5: Nervous system pain</text>
<text class="lg" x="480" y="284">C6: Nervous system disorders</text>
<circle class="cD" cx="458" cy="292" r="5"/><text class="lc" x="458" y="292">D</text>
<text class="lg" x="468" y="295">Diseases of the respiratory system</text>
<text class="lg" x="480" y="305">D1: Breathing abnormalities</text>
<text class="lg" x="480" y="315.5">D2: Lower respiratory disease</text>
<circle class="cE" cx="458" cy="323" r="5"/><text class="lc" x="458" y="323">E</text>
<text class="lg" x="468" y="326">Diseases of the circulatory system</text>
<text class="lg" x="480" y="336.5">E1: Chest pain</text>
<text class="lg" x="480" y="346.5">E2: Abnormalities of heart beat</text>
<text class="lg" x="480" y="357">E3: Cardiac dysrhythmias</text>
<text class="lg" x="480" y="367.5">E4: Heart failure</text>
<circle class="cF" cx="458" cy="375" r="5"/><text class="lc" x="458" y="375">F</text>
<text class="lg" x="468" y="378">Diseases of the genitourinary system</text>
<text class="lg" x="480" y="387.5">F1: Renal failure</text>
<circle class="cG" cx="458" cy="394" r="5"/><text class="lc" x="458" y="394">G</text>
<text class="lg" x="468" y="397">Diseases of the blood</text>
<text class="lg" x="480" y="405.5">G1: Anemia</text>
<circle class="cH" cx="458" cy="413" r="5"/><text class="lc" x="458" y="413">H</text>
<text class="lg" x="468" y="416">Endocrine, nutritional and metabolic diseases</text>
<text class="lg" x="480" y="425">H1: Fluid/electrolyte disorders</text>
<circle class="cI" cx="458" cy="432" r="5"/><text class="lc" x="458" y="432">I</text>
<text class="lg" x="468" y="435">Mental and neurodevelopmental disorders</text>
<text class="lg" x="480" y="445.5">I1: Anxiety</text>
<circle class="cJ" cx="458" cy="452" r="5"/><text class="lc" x="458" y="452">J</text>
<text class="lg" x="468" y="455">Others</text>
<text class="lg" x="480" y="465">J1: Skin sensation problems and rash</text>
<text class="lg" x="480" y="475.5">J2: General signs and symptoms</text>
</g>

<g id="size-legend">
<text class="lg" x="508" y="491" style="text-anchor:middle;font-size:7px">Node size</text>
<text class="lg" x="562" y="491" style="text-anchor:middle;font-size:7px">Line width</text>
<circle class="ns" cx="507" cy="509" r="14"/>
<circle class="ns" cx="508" cy="538" r="10.5"/>
<circle class="ns" cx="507" cy="559" r="7"/>
<circle class="ns" cx="507" cy="575" r="4.5"/>
<text class="lg" x="524" y="512">30%</text>
<text class="lg" x="524" y="541">20%</text>
<text class="lg" x="524" y="562">10%</text>
<text class="lg" x="524" y="578">1%</text>
<rect x="552.5" y="505" width="3.5" height="9" fill="#bbb"/>
<rect x="553.2" y="534" width="2.2" height="8.5" fill="#bbb"/>
<rect x="553.7" y="555" width="1.4" height="8" fill="#bbb"/>
<rect x="554.1" y="571" width="0.6" height="8" fill="#ccc"/>
<text class="lg" x="561" y="512">7%</text>
<text class="lg" x="561" y="541">5%</text>
<text class="lg" x="561" y="562">3%</text>
<text class="lg" x="561" y="578">1%</text>
</g>

<g id="caption">
<text class="cap b" x="30" y="614" textLength="293" lengthAdjust="spacingAndGlyphs">Fig. 4 | Differences in incidence patterns of selected PASC conditions (grouped</text>
<text class="cap b" x="30" y="626" textLength="291" lengthAdjust="spacingAndGlyphs">by CCSR domains) in 30–180  days after COVID-19 lab test between positive</text>
<text class="cap b" x="30" y="638" textLength="206" lengthAdjust="spacingAndGlyphs">and matched negative patients on the INSIGHT cohort.</text>
<text class="cap" x="239" y="638" textLength="83" lengthAdjust="spacingAndGlyphs">The bubbles in each</text>
<text class="cap" x="30" y="650" textLength="268" lengthAdjust="spacingAndGlyphs">network correspond to a PASC condition with their sizes proportional to the</text>
<text class="cap" x="340" y="614" textLength="289" lengthAdjust="spacingAndGlyphs">incidences in the particular subphenotype or matched controls. The edge linking</text>
<text class="cap" x="340" y="626" textLength="250" lengthAdjust="spacingAndGlyphs">a pair of bubbles indicates co-incidence of the corresponding potential PASC</text>
<text class="cap" x="340" y="638" textLength="289" lengthAdjust="spacingAndGlyphs">conditions, with its thickness proportional to the co-incidence rate, where lines</text>
<text class="cap" x="340" y="650" textLength="131" lengthAdjust="spacingAndGlyphs">are visible if the rate is larger than 1%.</text>
<line x1="31" y1="662" x2="631" y2="662" stroke="#555" stroke-width="1.5"/>
</g>
</svg>
